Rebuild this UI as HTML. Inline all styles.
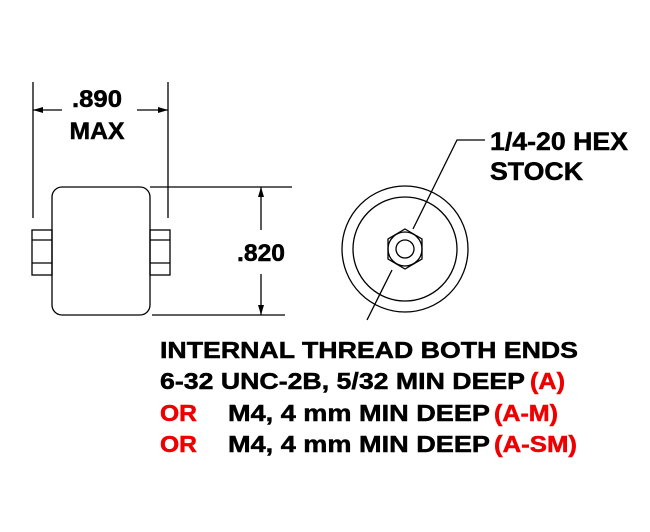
<!DOCTYPE html>
<html><head><style>body{margin:0;background:#fff}svg{display:block}</style></head>
<body>
<svg width="650" height="532" viewBox="0 0 650 532" xmlns="http://www.w3.org/2000/svg" font-family="Liberation Sans, Arial, sans-serif" font-weight="bold">
<defs>
<marker id="a" viewBox="0 0 10 6" refX="10" refY="3" markerWidth="10" markerHeight="6" orient="auto-start-reverse" markerUnits="userSpaceOnUse"><path d="M0,0L10,3L0,6z" fill="#000"/></marker>
</defs>
<g stroke="#000" stroke-width="1.3" fill="none">
<line x1="33" y1="82" x2="33" y2="218"/>
<line x1="168" y1="82" x2="168" y2="218"/>
<line x1="33" y1="110" x2="62" y2="110" marker-start="url(#a)"/>
<line x1="137" y1="110" x2="168" y2="110" marker-end="url(#a)"/>
<rect x="52" y="187" width="98" height="128" rx="10"/>
<rect x="32" y="230" width="20" height="45"/>
<line x1="32" y1="240" x2="52" y2="240"/><line x1="32" y1="263" x2="52" y2="263"/>
<rect x="150" y="230" width="20" height="45"/>
<line x1="150" y1="240" x2="170" y2="240"/><line x1="150" y1="263" x2="170" y2="263"/>
<line x1="150" y1="187" x2="292" y2="187"/>
<line x1="152" y1="315" x2="285" y2="315"/>
<line x1="261" y1="187" x2="261" y2="230" marker-start="url(#a)"/>
<line x1="261" y1="274" x2="261" y2="315" marker-end="url(#a)"/>
<circle cx="405" cy="249" r="63"/>
<circle cx="405" cy="249" r="52"/>
<polygon points="405,229 422,239 422,259 405,269 388,259 388,239"/>
<circle cx="405" cy="249" r="17"/>
<circle cx="405" cy="249" r="9"/>
<polyline points="367,320 392,270"/>
<polyline points="413,229 457,140 485,140"/>
</g>
<g fill="#000" stroke="#000" stroke-width="0.5">
<text x="97" y="107" text-anchor="middle" font-size="24" textLength="50" lengthAdjust="spacingAndGlyphs">.890</text>
<text x="97" y="139" text-anchor="middle" font-size="24" textLength="55" lengthAdjust="spacingAndGlyphs">MAX</text>
<text x="237" y="261" font-size="24" textLength="48" lengthAdjust="spacingAndGlyphs">.820</text>
<text x="490" y="150" font-size="25" textLength="138" lengthAdjust="spacingAndGlyphs">1/4-20 HEX</text>
<text x="490" y="180" font-size="25" textLength="93" lengthAdjust="spacingAndGlyphs">STOCK</text>
</g>
<g font-size="23" fill="#000" stroke="#000" stroke-width="0.5">
<text x="160" y="358" textLength="418" lengthAdjust="spacingAndGlyphs">INTERNAL THREAD BOTH ENDS</text>
<text x="160" y="389" textLength="365" lengthAdjust="spacingAndGlyphs">6-32 UNC-2B, 5/32 MIN DEEP</text>
<text x="530" y="389" fill="#e00" stroke="#e00" textLength="35" lengthAdjust="spacingAndGlyphs">(A)</text>
<text x="160" y="421" fill="#e00" stroke="#e00" textLength="37" lengthAdjust="spacingAndGlyphs">OR</text>
<text x="228" y="421" textLength="262" lengthAdjust="spacingAndGlyphs">M4, 4 mm MIN DEEP</text>
<text x="494" y="421" fill="#e00" stroke="#e00" textLength="64" lengthAdjust="spacingAndGlyphs">(A-M)</text>
<text x="160" y="452" fill="#e00" stroke="#e00" textLength="37" lengthAdjust="spacingAndGlyphs">OR</text>
<text x="228" y="452" textLength="262" lengthAdjust="spacingAndGlyphs">M4, 4 mm MIN DEEP</text>
<text x="494" y="452" fill="#e00" stroke="#e00" textLength="83" lengthAdjust="spacingAndGlyphs">(A-SM)</text>
</g>
</svg>
</body></html>
